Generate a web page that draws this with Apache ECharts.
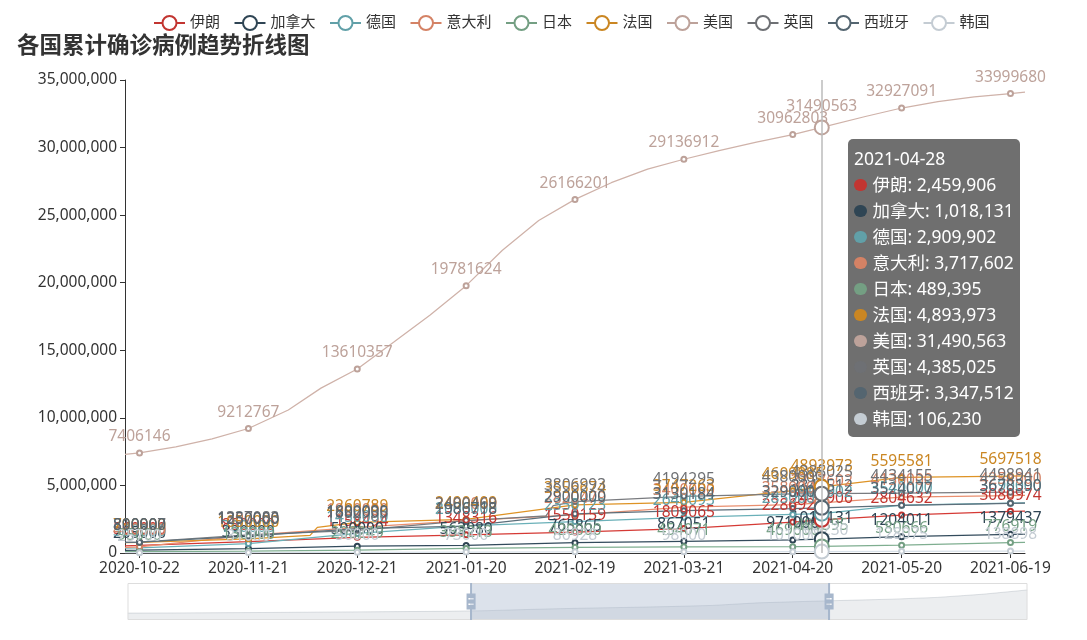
<!DOCTYPE html>
<html>
<head>
<meta charset="utf-8">
<script src="https://cdn.jsdelivr.net/npm/echarts@6/dist/echarts.min.js"></script>
<style>
html,body{margin:0;padding:0;background:#fff;}
#main{width:1087px;height:640px;}
</style>
</head>
<body>
<div id="main"></div>
<script>
// ---------------- data ----------------
const countries = ['伊朗','加拿大','德国','意大利','日本','法国','美国','英国','西班牙','韩国'];
const colors = ['#c23531','#2f4554','#61a0a8','#d48265','#749f83','#ca8622','#bda29a','#6e7074','#546570','#c4ccd3'];
const startDate = '2020-02-25';   // first category of the full date axis
const dayCount = 621;             // number of daily categories
const zoomStartDate = '2020-10-18';
const zoomEndDate = '2021-06-23';
const tipDate = '2021-04-28';

// readings of each country: [date, cumulative cases]
const iran = [['2020-10-18',530000],['2020-10-22',560000],['2020-11-21',850000],['2020-12-21',1158494],['2021-01-20',1348316],['2021-02-19',1550159],['2021-03-21',1809065],['2021-04-20',2286927],['2021-04-28',2459906],['2021-05-20',2804632],['2021-06-19',3080974],['2021-06-23',3100000]];
const canada = [['2020-10-18',195000],['2020-10-22',205000],['2020-11-21',330000],['2020-12-21',500000],['2021-01-20',563980],['2021-02-19',765865],['2021-03-21',867051],['2021-04-20',971000],['2021-04-28',1018131],['2021-05-20',1204011],['2021-06-19',1379437],['2021-06-23',1390000]];
const germany = [['2020-10-18',360000],['2020-10-22',380000],['2020-11-21',700000],['2020-12-21',1450000],['2021-01-20',2000000],['2021-02-19',2330123],['2021-03-21',2640093],['2021-04-20',2850000],['2021-04-28',2909902],['2021-05-20',3540000],['2021-06-19',3690000],['2021-06-23',3700000]];
const italy = [['2020-10-18',420000],['2020-10-22',460000],['2020-11-21',1300000],['2020-12-21',1900000],['2021-01-20',2400000],['2021-02-19',2820479],['2021-03-21',3400000],['2021-04-20',3580000],['2021-04-28',3717602],['2021-05-20',4130000],['2021-06-19',4254000],['2021-06-23',4260000]];
const japan = [['2020-10-18',93000],['2020-10-22',95000],['2020-11-21',130000],['2020-12-21',208249],['2021-01-20',338213],['2021-02-19',420000],['2021-03-21',454071],['2021-04-20',469600],['2021-04-28',489395],['2021-05-20',580666],['2021-06-19',776919],['2021-06-23',785000]];
const france = [['2020-10-18',760000],['2020-10-22',790000],['2020-11-21',1050000],['2020-12-08',1300000],['2020-12-10',1900000],['2020-12-21',2260789],['2021-01-20',2490409],['2021-02-19',3556674],['2021-03-21',3747263],['2021-04-20',4609885],['2021-04-28',4893973],['2021-05-20',5595581],['2021-06-19',5697518],['2021-06-23',5710000]];
const usa = [['2020-10-18',7300000],['2020-10-22',7406146],['2020-11-01',7850000],['2020-11-11',8450000],['2020-11-21',9212767],['2020-12-02',10580000],['2020-12-11',12200000],['2020-12-21',13610357],['2020-12-31',15600000],['2021-01-10',17600000],['2021-01-20',19781624],['2021-01-30',22400000],['2021-02-09',24600000],['2021-02-19',26166201],['2021-03-01',27400000],['2021-03-11',28400000],['2021-03-21',29136912],['2021-03-31',29800000],['2021-04-10',30400000],['2021-04-20',30962803],['2021-04-28',31490563],['2021-05-10',32300000],['2021-05-20',32927091],['2021-05-30',33400000],['2021-06-09',33750000],['2021-06-19',33999680],['2021-06-23',34100000]];
const uk = [['2020-10-18',780000],['2020-10-22',810907],['2020-11-21',1337083],['2020-12-21',1682935],['2021-01-20',2400469],['2021-02-11',2750000],['2021-02-13',3500000],['2021-02-19',3806993],['2021-03-21',4194295],['2021-04-20',4380000],['2021-04-28',4385025],['2021-05-20',4434155],['2021-06-19',4498941],['2021-06-23',4510000]];
const spain = [['2020-10-18',780000],['2020-10-22',800000],['2020-11-21',1250000],['2020-12-21',1800000],['2021-01-20',1986718],['2021-02-19',2900000],['2021-03-21',3130184],['2021-04-20',3290000],['2021-04-28',3347512],['2021-05-20',3524077],['2021-06-19',3678390],['2021-06-23',3690000]];
const korea = [['2020-10-18',25000],['2020-10-22',25700],['2020-11-21',31000],['2020-12-21',50000],['2021-01-20',73000],['2021-02-19',86928],['2021-03-21',98000],['2021-04-20',101000],['2021-04-28',106230],['2021-05-20',128075],['2021-06-19',138898],['2021-06-23',140000]];
const seriesData = [iran, canada, germany, italy, japan, france, usa, uk, spain, korea];

// readings of the slider's background curve (Iran over the full date range, every 31 days)
const iranOverview = [0, 30000, 90000, 140000, 220000, 300000, 370000, 450000, 620000, 950000, 1220000, 1420000, 1650000, 1950000, 2600000, 2950000, 3250000, 3550000, 4000000, 4800000, 5900000];

const yTicks = {min: 0, max: 35000000, interval: 5000000};

// -------------- build ----------------
function fmtDate(d){
  const m = d.getUTCMonth()+1, day = d.getUTCDate();
  return d.getUTCFullYear()+'-'+(m<10?'0':'')+m+'-'+(day<10?'0':'')+day;
}
const dates = [];
{
  const d0 = new Date(startDate+'T00:00:00Z');
  for (let i=0;i<dayCount;i++){ dates.push(fmtDate(new Date(d0.getTime()+i*86400000))); }
}
const FONT = "'Noto Sans', 'Noto Sans CJK SC', sans-serif";
const chart = echarts.init(document.getElementById('main'), null, {renderer:'canvas'});

const series = [{
  name: '__overview', type: 'line', data: iranOverview, silent: true,
  symbol: 'none', lineStyle: {opacity: 0}, tooltip: {show: false}, legendHoverLink: false
}];
countries.forEach(function(c, i){
  series.push({
    name: c, type: 'line', color: colors[i],
    data: seriesData[i],
    symbol: 'emptyCircle', symbolSize: 5,
    lineStyle: {width: 1.25},
    label: {show: true, position: 'top', fontSize: 15.5, fontFamily: FONT, color: colors[i]},
    emphasis: {scale: 2.8, focus: 'none', label: {color: colors[i]}}
  });
});

function addCommas(v){ return String(v).replace(/\B(?=(\d{3})+(?!\d))/g, ','); }

chart.setOption({
  animation: false,
  textStyle: {fontFamily: FONT},
  title: {text: '各国累计确诊病例趋势折线图', left: 12, top: 30,
    textStyle: {fontSize: 22.5, fontWeight: 'bold', color: '#333', fontFamily: FONT}},
  legend: {data: countries, left: 148, top: 10, itemWidth: 31, itemHeight: 17.5, itemGap: 13.5,
    textStyle: {fontSize: 15, color: '#333'}},
  tooltip: {
    trigger: 'axis', position: [848, 139],
    backgroundColor: 'rgba(50,50,50,0.7)', borderWidth: 0, padding: [6, 6],
    textStyle: {color: '#fff', fontSize: 17.5, fontFamily: FONT},
    axisPointer: {type: 'line', lineStyle: {color: '#bbb', width: 1.5, type: 'solid'}},
    extraCssText: 'box-shadow:none;border-radius:5px;line-height:26px;',
    formatter: function(params){
      let s = params.length ? params[0].axisValue : '';
      params.forEach(function(p){
        if (p.seriesName === '__overview') return;
        s += '<br/><span style="display:inline-block;margin-right:6px;border-radius:50%;width:12.5px;height:12.5px;background-color:'+p.color+';"></span>'
          + p.seriesName + ': ' + addCommas(p.value[1]);
      });
      return s;
    }
  },
  grid: {left: 125, right: 62, top: 80, bottom: 87},
  xAxis: {type: 'category', data: dates, boundaryGap: false,
    axisLine: {lineStyle: {color: '#333'}},
    axisTick: {show: true},
    axisLabel: {interval: 29, fontSize: 15.5, color: '#333'}},
  yAxis: {type: 'value', min: yTicks.min, max: yTicks.max, interval: yTicks.interval,
    splitLine: {show: false},
    axisLine: {show: true, lineStyle: {color: '#333'}},
    axisTick: {show: true},
    axisLabel: {fontSize: 15.5, color: '#333', formatter: function(v){ return addCommas(v); }}},
  dataZoom: [{
    type: 'slider', xAxisIndex: 0, filterMode: 'filter',
    startValue: zoomStartDate, endValue: zoomEndDate,
    left: 125, right: 62, top: 583, height: 37,
    showDetail: false, brushSelect: false, moveHandleSize: 0,
    borderColor: '#ddd', backgroundColor: 'rgba(47,69,84,0)',
    fillerColor: 'rgba(167,183,204,0.4)',
    handleIcon: 'M8.2,13.6V3.9H6.3v9.7H3.1v14.9h3.3v9.7h1.8v-9.7h3.3V13.6H8.2z M9.7,24.4H4.8v-1.4h4.9V24.4z M9.7,19.1H4.8v-1.4h4.9V19.1z',
    handleSize: '100%',
    handleStyle: {color: '#a7b7cc', borderWidth: 0},
    dataBackground: {lineStyle: {color: '#2f4554', opacity: 0.3, width: 0.5}, areaStyle: {color: 'rgba(47,69,84,0.3)', opacity: 0.3}},
    selectedDataBackground: {lineStyle: {color: '#2f4554', opacity: 0.3, width: 0.5}, areaStyle: {color: 'rgba(47,69,84,0.3)', opacity: 0.3}}
  }],
  series: series
});

setTimeout(function(){
  const px = chart.convertToPixel({xAxisIndex: 0, yAxisIndex: 0}, [tipDate, 20000000]);
  chart.dispatchAction({type: 'showTip', x: px[0], y: px[1]});
}, 50);
</script>
</body>
</html>
